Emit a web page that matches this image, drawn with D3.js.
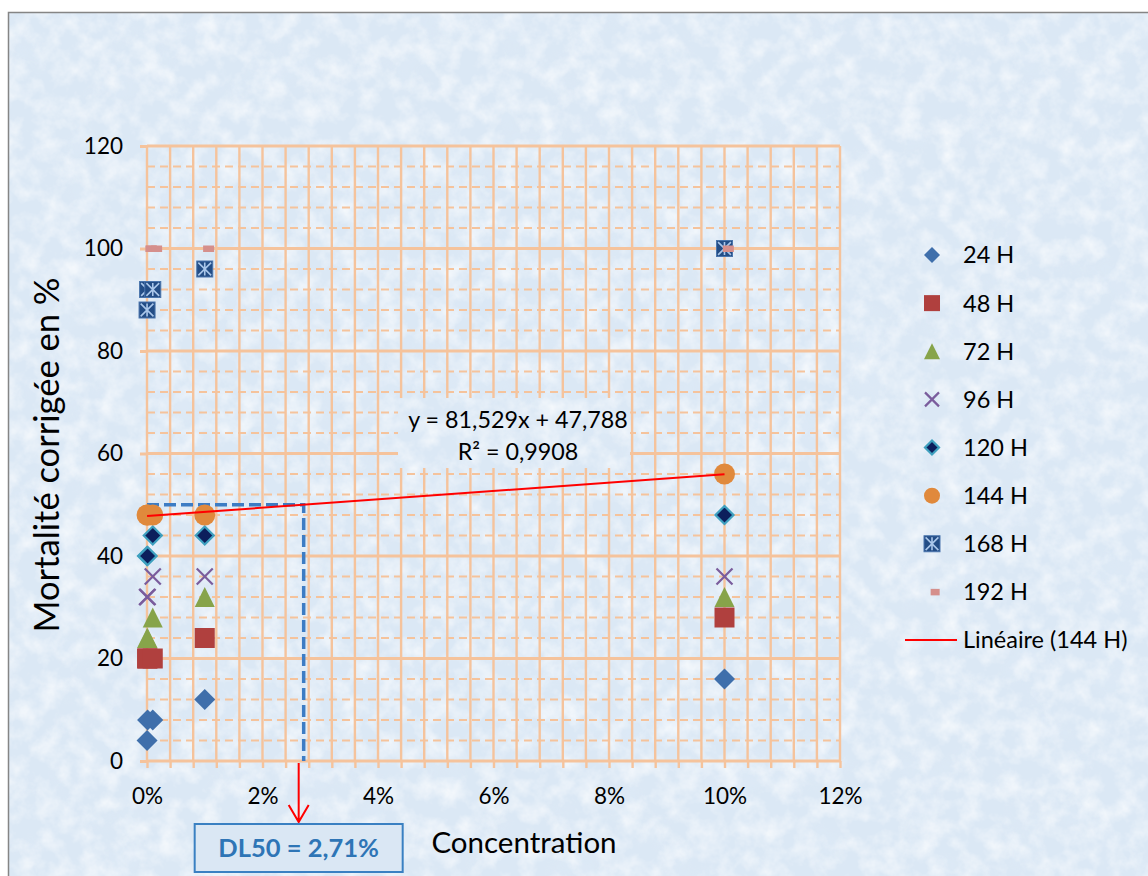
<!DOCTYPE html>
<html>
<head>
<meta charset="utf-8">
<script src="https://cdn.jsdelivr.net/npm/d3@7"></script>
<style>
  html, body { margin: 0; padding: 0; background: #ffffff; }
  svg { display: block; font-family: Lato, "Open Sans", sans-serif; }
</style>
</head>
<body>
<svg id="chart" width="1148" height="876"></svg>
<script>
// Concentrations (fraction) tested for each exposure time
const concentrations = [0.00001, 0.0001, 0.001, 0.01, 0.1];

// Corrected mortality (%) per exposure time
const mort24  = [4, 8, 8, 12, 16];
const mort48  = [20, 20, 20, 24, 28];
const mort72  = [24, 24, 28, 32, 32];
const mort96  = [32, 32, 36, 36, 36];
const mort120 = [40, 40, 44, 44, 48];
const mort144 = [48, 48, 48, 48, 56];
const mort168 = [88, 92, 92, 96, 100];
const mort192 = [100, 100, 100, 100, 100];

const seriesNames = ["24 H", "48 H", "72 H", "96 H", "120 H", "144 H", "168 H", "192 H"];

// Linear trend on the 144 H series
const trendSlope = 81.529;
const trendIntercept = 47.788;
const trendR2 = 0.9908;
const trendLabel = "Linéaire (144 H)";

// Axis ticks
const xTickValues = [0, 0.02, 0.04, 0.06, 0.08, 0.10, 0.12];
const yTickValues = [0, 20, 40, 60, 80, 100, 120];

const xTitle = "Concentration";
const yTitle = "Mortalité corrigée en %";

// ---------------------------------------------------------------
const series = [
  { name: seriesNames[0], values: mort24,  marker: "diamond" },
  { name: seriesNames[1], values: mort48,  marker: "square" },
  { name: seriesNames[2], values: mort72,  marker: "triangle" },
  { name: seriesNames[3], values: mort96,  marker: "cross" },
  { name: seriesNames[4], values: mort120, marker: "diamondDark" },
  { name: seriesNames[5], values: mort144, marker: "circle" },
  { name: seriesNames[6], values: mort168, marker: "star" },
  { name: seriesNames[7], values: mort192, marker: "dash" }
];

const svg = d3.select("#chart");
const W = 1148, H = 876;
const gridColor = "#f5c39c";
const frFmt = d3.formatLocale({ decimal: ",", thousands: " ", grouping: [3], currency: ["", " €"], percent: "%" });

const x = d3.scaleLinear().domain([0, 0.12]).range([147, 840]);
const y = d3.scaleLinear().domain([0, 120]).range([761, 146]);

// ---- paper texture filters (clipped to the filtered shape) ----
const defs = svg.append("defs");
function paperFilter(id, freq, octaves, seed, matrix) {
  const f = defs.append("filter").attr("id", id)
    .attr("filterUnits", "userSpaceOnUse").attr("x", 0).attr("y", 0).attr("width", W).attr("height", H);
  f.append("feTurbulence").attr("type", "fractalNoise").attr("baseFrequency", freq)
    .attr("numOctaves", octaves).attr("seed", seed).attr("result", "noise");
  f.append("feColorMatrix").attr("in", "noise").attr("type", "matrix").attr("values", matrix).attr("result", "tint");
  f.append("feComposite").attr("in", "tint").attr("in2", "SourceGraphic").attr("operator", "in");
}
paperFilter("paperLight", 0.05, 4, 7, "0 0 0 0 1  0 0 0 0 1  0 0 0 0 1  1.3 0 0 0 -0.5");
paperFilter("paperDark", 0.02, 3, 19, "0 0 0 0 0.76  0 0 0 0 0.84  0 0 0 0 0.94  0 0.9 0 0 -0.45");

function paperRect(g, x0, y0, w, h, base) {
  g.append("rect").attr("x", x0).attr("y", y0).attr("width", w).attr("height", h).attr("fill", base);
  g.append("rect").attr("x", x0).attr("y", y0).attr("width", w).attr("height", h)
    .attr("fill", "#000").attr("filter", "url(#paperDark)");
  g.append("rect").attr("x", x0).attr("y", y0).attr("width", w).attr("height", h)
    .attr("fill", "#000").attr("filter", "url(#paperLight)");
}

const bg = svg.append("g");
paperRect(bg, 8, 12, W, H, "#dbe8f5");
bg.append("path").attr("d", `M8.5,${H} V12.5 H${W}`)
  .attr("fill", "none").attr("stroke", "#858585").attr("stroke-width", 1.5);

// ---- gridlines ----
const grid = svg.append("g");
const xMinor = d3.range(0, 0.12 + 1e-9, 0.004);
grid.selectAll("line.vx").data(xMinor).join("line")
  .attr("x1", d => x(d)).attr("x2", d => x(d))
  .attr("y1", y(120)).attr("y2", y(0))
  .attr("stroke", gridColor).attr("stroke-width", 2.4);

const yMinor = d3.range(0, 121, 4).filter(v => v % 20 !== 0);
grid.selectAll("line.hm").data(yMinor).join("line")
  .attr("x1", x(0)).attr("x2", x(0.12))
  .attr("y1", d => y(d)).attr("y2", d => y(d))
  .attr("stroke", gridColor).attr("stroke-width", 2).attr("stroke-dasharray", "8,5");
grid.selectAll("line.hM").data(yTickValues).join("line")
  .attr("x1", x(0)).attr("x2", x(0.12))
  .attr("y1", d => y(d)).attr("y2", d => y(d))
  .attr("stroke", gridColor).attr("stroke-width", 3);

// ---- axes ----
const xTickAxis = d3.axisBottom(x).tickValues(xMinor).tickSize(7).tickFormat("");
const gxt = svg.append("g").attr("transform", `translate(0,${y(0)})`).call(xTickAxis);
gxt.select(".domain").remove();
gxt.selectAll(".tick line").attr("stroke", gridColor).attr("stroke-width", 2.4);

const xLabelAxis = d3.axisBottom(x).tickValues(xTickValues).tickSize(0).tickPadding(27)
  .tickFormat(frFmt.format(".0%"));
const gxl = svg.append("g").attr("transform", `translate(0,${y(0)})`).call(xLabelAxis);
gxl.select(".domain").remove();
gxl.selectAll("text").attr("font-family", "Lato").attr("font-size", 22.5).attr("fill", "#000");

const yAxis = d3.axisLeft(y).tickValues(yTickValues).tickSize(7).tickPadding(17);
const gy = svg.append("g").attr("transform", `translate(${x(0)},0)`).call(yAxis);
gy.select(".domain").remove();
gy.selectAll(".tick line").attr("stroke", gridColor).attr("stroke-width", 3);
gy.selectAll("text").attr("font-family", "Lato").attr("font-size", 22.5).attr("fill", "#000");

// axis titles
svg.append("text").attr("x", 524).attr("y", 853).attr("text-anchor", "middle")
  .attr("font-size", 29.5).attr("fill", "#000").text(xTitle);
svg.append("text").attr("transform", "translate(59,455) rotate(-90)").attr("text-anchor", "middle")
  .attr("font-size", 34.5).attr("fill", "#000").text(yTitle);

// ---- marker painter ----
function drawMarker(g, type, s) {
  const h = s / 2;
  switch (type) {
    case "diamond":
      g.append("path").attr("d", `M0,${-h}L${h},0L0,${h}L${-h},0Z`).attr("fill", "#3f6fab");
      break;
    case "square":
      g.append("rect").attr("x", -h).attr("y", -h).attr("width", s).attr("height", s)
        .attr("fill", "#b0403e");
      break;
    case "triangle":
      g.append("path").attr("d", `M0,${-h}L${h},${h}L${-h},${h}Z`).attr("fill", "#87a44a");
      break;
    case "cross":
      g.append("path").attr("d", `M${-h},${-h}L${h},${h}M${h},${-h}L${-h},${h}`)
        .attr("stroke", "#7a5c9c").attr("stroke-width", 2.2).attr("fill", "none");
      break;
    case "diamondDark":
      g.append("path").attr("d", `M0,${-h + 1}L${h - 1},0L0,${h - 1}L${-h + 1},0Z`)
        .attr("fill", "#0c1f5c").attr("stroke", "#3ea0bf").attr("stroke-width", 2.2);
      break;
    case "circle":
      g.append("circle").attr("r", h).attr("fill", "#e0893c");
      break;
    case "star": {
      const q = h * 0.8;
      g.append("rect").attr("x", -h).attr("y", -h).attr("width", s).attr("height", s)
        .attr("fill", "#234d86").attr("stroke", "#4a75ad").attr("stroke-width", 1);
      g.append("path").attr("d", `M0,${-q}V${q}M${-q},${-q}L${q},${q}M${q},${-q}L${-q},${q}`)
        .attr("stroke", "#a9c6ea").attr("stroke-width", 1.6).attr("fill", "none");
      break;
    }
    case "dash":
      g.append("rect").attr("x", -h + s * 0.35).attr("y", -3).attr("width", s).attr("height", 6.5)
        .attr("fill", "#d58f8c");
      break;
  }
}

const markerSize = {
  diamond: 21, square: 20, triangle: 20, cross: 16, diamondDark: 20,
  circle: 21, star: 16, dash: 11
};

// ---- DL50 guide lines ----
const dl50 = (50 - trendIntercept) / trendSlope;
svg.append("path")
  .attr("d", `M${x(0)},${y(50)}H${x(dl50)}V${y(0)}`)
  .attr("fill", "none").attr("stroke", "#3d7cc4").attr("stroke-width", 3.5)
  .attr("stroke-dasharray", "12,5");

// ---- data points ----
const pts = svg.append("g");
series.forEach(sr => {
  sr.values.forEach((v, i) => {
    const g = pts.append("g").attr("transform", `translate(${x(concentrations[i])},${y(v)})`);
    drawMarker(g, sr.marker, markerSize[sr.marker]);
  });
});

// ---- trend line (144 H) ----
const xMin = d3.min(concentrations), xMax = d3.max(concentrations);
svg.append("line")
  .attr("x1", x(xMin)).attr("y1", y(trendSlope * xMin + trendIntercept))
  .attr("x2", x(xMax)).attr("y2", y(trendSlope * xMax + trendIntercept))
  .attr("stroke", "#ff0000").attr("stroke-width", 2);

// ---- equation label ----
const eq = svg.append("g");
paperRect(eq, 398, 398, 232, 70, "#dbe8f5");
const f3 = frFmt.format(".3f"), f4 = frFmt.format(".4f");
eq.append("text").attr("x", 518).attr("y", 428).attr("text-anchor", "middle")
  .attr("font-size", 23.3).attr("fill", "#000")
  .text(`y = ${f3(trendSlope)}x + ${f3(trendIntercept)}`);
eq.append("text").attr("x", 518).attr("y", 460).attr("text-anchor", "middle")
  .attr("font-size", 23.3).attr("fill", "#000")
  .text(`R² = ${f4(trendR2)}`);

// ---- DL50 callout ----
const ax = x(dl50) - 5;
svg.append("path")
  .attr("d", `M${ax},${y(0) + 2}V${y(0) + 61}M${ax - 10},${y(0) + 44}L${ax},${y(0) + 61}L${ax + 10},${y(0) + 44}`)
  .attr("fill", "none").attr("stroke", "#ff0000").attr("stroke-width", 2);
svg.append("rect").attr("x", ax - 104).attr("y", 824).attr("width", 208).attr("height", 48)
  .attr("fill", "#dae7f4").attr("stroke", "#3a80c2").attr("stroke-width", 2);
svg.append("text").attr("x", ax).attr("y", 857).attr("text-anchor", "middle")
  .attr("font-size", 25.5).attr("font-weight", "bold").attr("fill", "#2e75b6")
  .text(`DL50 = ${frFmt.format(".2%")(dl50)}`);

// ---- legend ----
const legend = svg.append("g");
const legendRowY = d3.scalePoint().domain([...seriesNames, trendLabel]).range([255, 640]);
series.forEach(sr => {
  const cy = legendRowY(sr.name);
  const g = legend.append("g").attr("transform", `translate(932,${cy})`);
  const s = sr.marker === "dash" ? 9 : (sr.marker === "cross" ? 14 : 16);
  drawMarker(g, sr.marker, s);
  legend.append("text").attr("x", 963).attr("y", cy).attr("dy", "0.36em")
    .attr("font-size", 23.5).attr("fill", "#000").text(sr.name);
});
{
  const cy = legendRowY(trendLabel);
  legend.append("line").attr("x1", 905).attr("x2", 957).attr("y1", cy).attr("y2", cy)
    .attr("stroke", "#ff0000").attr("stroke-width", 2);
  legend.append("text").attr("x", 963).attr("y", cy).attr("dy", "0.36em")
    .attr("font-size", 23.5).attr("fill", "#000").text(trendLabel);
}
</script>
</body>
</html>
